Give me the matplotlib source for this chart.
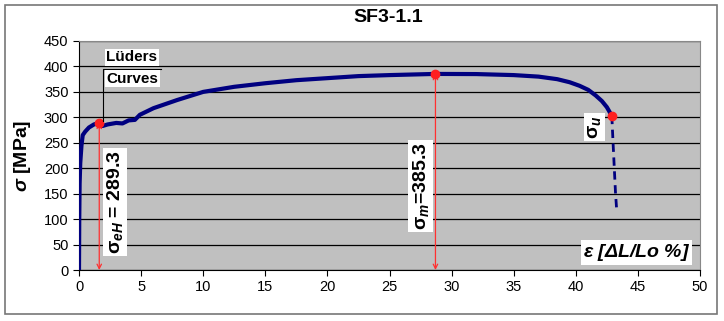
import matplotlib.pyplot as plt
from matplotlib.patches import Rectangle

plt.rcParams['font.family'] = ['Liberation Sans', 'DejaVu Sans']
plt.rcParams['mathtext.fontset'] = 'custom'
plt.rcParams['mathtext.rm'] = 'Liberation Sans'
plt.rcParams['mathtext.it'] = 'Liberation Sans:italic'
plt.rcParams['mathtext.bf'] = 'Liberation Sans:bold'
plt.rcParams['mathtext.bfit'] = 'Liberation Sans:bold:italic'

# stress-strain curve
strain = [0.0, 0.02, 0.05, 0.1, 0.2, 0.3, 0.5, 0.8, 1.2, 1.63, 1.9, 2.3, 3.0, 3.5, 4.0, 4.5,
          4.9, 6.0, 7.9, 10, 12.5, 15, 17.5, 20, 22.5, 25, 28.7, 32, 35, 37, 38.5, 39.5,
          40.3, 41.0, 41.6, 42.1, 42.5, 42.9]
stress = [0, 100, 170, 210, 245, 265, 272, 280, 286, 289.3, 283, 286, 289, 288, 294, 295,
          305, 318, 334, 350, 360, 367, 373, 377, 381, 383, 385.3, 385, 383, 380, 375, 369,
          362, 354, 343, 332, 320, 303]
tail_strain = [42.9, 43.0, 43.1, 43.2, 43.3]
tail_stress = [303, 250, 200, 150, 115]

eH = (1.63, 289.3)
m = (28.7, 385.3)
u = (42.9, 303)

fig = plt.figure(figsize=(7.24, 3.21), dpi=100)
fig.patches.append(Rectangle((5 / 724, 1 - 314 / 321), 712 / 724, 309 / 321,
                             transform=fig.transFigure, fill=False,
                             edgecolor='#777777', linewidth=1.2))
ax = fig.add_axes([79 / 724, 1 - 270 / 321, 621 / 724, 229 / 321])
ax.set_facecolor('#c0c0c0')

ax.plot(strain, stress, color='#000080', lw=3, solid_capstyle='round', zorder=3)
ax.plot(tail_strain, tail_stress, color='#000080', lw=2, ls=(0, (3, 2)), zorder=3)
ax.plot([eH[0], m[0], u[0]], [eH[1], m[1], u[1]], 'o', color='#ff2020', ms=6, zorder=4)

for x, y in (eH, m):
    ax.annotate('', xy=(x, y), xytext=(x, 0),
                arrowprops=dict(arrowstyle='<->', color='#ff3030', lw=0.9,
                                mutation_scale=8, shrinkA=0, shrinkB=0), zorder=2)

box = dict(facecolor='white', edgecolor='none', pad=1.5)
ax.text(2.9, 134, r'$\mathbf{\sigma}_{\mathbfit{eH}}$ = 289.3', rotation=90, ha='center',
        va='center', fontsize=14, fontweight='bold', bbox=box, zorder=5)
ax.text(27.5, 165, r'$\mathbf{\sigma}_{\mathbfit{m}}$=385.3', rotation=90, ha='center',
        va='center', fontsize=14, fontweight='bold', bbox=box, zorder=5)
ax.text(41.5, 281, r'$\mathbf{\sigma}_{\mathbfit{u}}$', rotation=90, ha='center',
        va='center', fontsize=14, fontweight='bold', bbox=box, zorder=5)
ax.text(49.2, 35, r'$\mathbfit{\varepsilon}$ [$\mathbfit{\Delta L/Lo}$ %]', ha='right',
        va='center', fontsize=14, fontweight='bold', fontstyle='italic', bbox=box, zorder=5)

ax.plot([1.95, 1.95, 6.6], [292, 394, 394], color='black', lw=0.8, zorder=4)
ax.text(2.2, 418, 'Lüders', ha='left', va='center', fontsize=11, fontweight='bold',
        bbox=dict(facecolor='white', edgecolor='none', pad=1), zorder=5)
ax.text(2.2, 376, 'Curves', ha='left', va='center', fontsize=11, fontweight='bold',
        bbox=dict(facecolor='white', edgecolor='none', pad=1), zorder=5)

ax.set_xlim(0, 50)
ax.set_ylim(0, 450)
ax.set_xticks(range(0, 51, 5))
ax.set_yticks(range(0, 451, 50))
ax.yaxis.grid(True, color='black', lw=0.9)
ax.set_axisbelow(True)
ax.tick_params(labelsize=10.5, direction='out', length=4, color='black')
for s in ('top', 'right'):
    ax.spines[s].set_color('#888888')
ax.set_ylabel(r'$\boldsymbol{\sigma}$ [MPa]', fontsize=14, fontweight='bold', labelpad=8)
fig.text(388 / 724, 1 - 18 / 321, 'SF3-1.1', ha='center', va='center',
         fontsize=14, fontweight='bold')

fig.savefig('out.png', dpi=100)
